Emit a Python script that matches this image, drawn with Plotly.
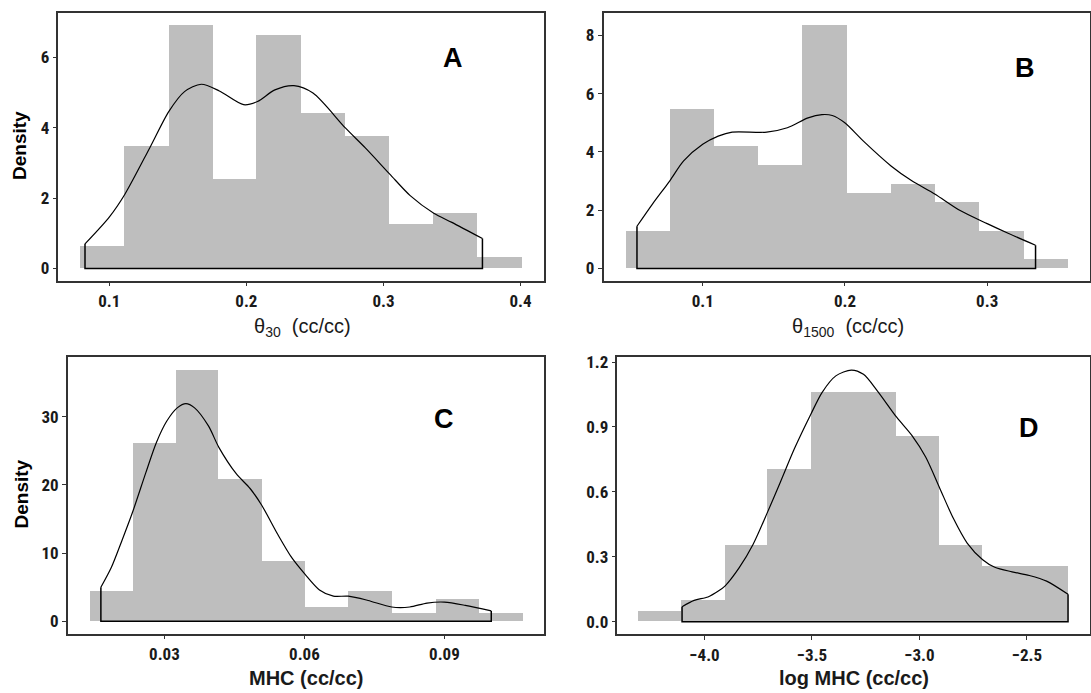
import plotly.graph_objects as go

W, H = 1091, 693

# ---------------- data ----------------
A_edges = [0.0790, 0.1114, 0.1436, 0.1757, 0.2076, 0.2400, 0.2721, 0.3045, 0.3367, 0.3688, 0.4010]
A_heights = [0.63, 3.47, 6.90, 2.54, 6.62, 4.41, 3.76, 1.27, 1.57, 0.33]
A_dens_x = [0.0823, 0.1000, 0.1114, 0.1296, 0.1435, 0.1549, 0.1671, 0.1803, 0.1980, 0.2081,
            0.2208, 0.2347, 0.2486, 0.2722, 0.2866, 0.3046, 0.3195, 0.3367, 0.3499, 0.3722]
A_dens_y = [0.70, 1.46, 2.11, 3.43, 4.46, 5.02, 5.23, 5.04, 4.65, 4.74,
            5.07, 5.19, 4.98, 3.99, 3.43, 2.68, 2.07, 1.57, 1.31, 0.85]

B_edges = [0.0458, 0.0769, 0.1075, 0.1386, 0.1697, 0.2009, 0.2320, 0.2631, 0.2942, 0.3253, 0.3564]
B_heights = [1.29, 5.46, 4.20, 3.55, 8.34, 2.58, 2.89, 2.28, 1.28, 0.32]
B_dens_x = [0.0538, 0.0648, 0.0769, 0.0866, 0.1000, 0.1109, 0.1207, 0.1450, 0.1595, 0.1741, 0.1838,
            0.1911, 0.1999, 0.2130, 0.2324, 0.2470, 0.2631, 0.2810, 0.3000, 0.3151, 0.3340]
B_dens_y = [1.45, 2.22, 3.01, 3.69, 4.26, 4.54, 4.68, 4.68, 4.83, 5.17, 5.28,
            5.25, 5.00, 4.37, 3.52, 3.01, 2.56, 1.99, 1.54, 1.20, 0.80]

C_edges = [0.01394, 0.02323, 0.03245, 0.04152, 0.05082, 0.06011, 0.0694, 0.0787, 0.08814, 0.09744, 0.1067]
C_heights = [4.40, 26.09, 36.86, 20.82, 8.70, 2.08, 4.40, 1.11, 3.24, 1.11]
C_dens_x = [0.01639, 0.01862, 0.02085, 0.02323, 0.02606, 0.02829, 0.03052, 0.03275, 0.03461, 0.03647,
            0.03944, 0.04167, 0.04539, 0.04836, 0.05082, 0.05431, 0.05729, 0.06011, 0.06323, 0.06621,
            0.06940, 0.07364, 0.07870, 0.08257, 0.08628, 0.09000, 0.09446, 0.10004]
C_dens_y = [4.98, 7.87, 11.74, 16.09, 21.88, 26.23, 29.37, 31.30, 31.93, 31.30,
            28.65, 25.51, 21.64, 19.47, 17.05, 12.71, 9.32, 6.91, 4.59, 3.67,
            3.67, 3.04, 2.08, 2.08, 2.66, 2.80, 2.32, 1.50]

D_edges = [-4.3055, -4.1061, -3.9051, -3.7058, -3.5048, -3.3055, -3.1061, -2.9051, -2.7058, -2.5048, -2.3087]
D_heights = [0.050, 0.101, 0.353, 0.706, 1.058, 1.058, 0.858, 0.353, 0.254, 0.254]
D_dens_x = [-4.1045, -4.0482, -3.9839, -3.9357, -3.9051, -3.8392, -3.7749, -3.7058, -3.6463, -3.5820,
            -3.5048, -3.4534, -3.3891, -3.3167, -3.2605, -3.1961, -3.1061, -3.0354, -2.9711, -2.9051,
            -2.8424, -2.7781, -2.7058, -2.6495, -2.5691, -2.4887, -2.4084, -2.3087]
D_dens_y = [0.070, 0.099, 0.115, 0.142, 0.165, 0.249, 0.356, 0.509, 0.647, 0.799,
            0.960, 1.059, 1.136, 1.163, 1.143, 1.067, 0.945, 0.861, 0.761, 0.616,
            0.478, 0.364, 0.287, 0.252, 0.231, 0.214, 0.188, 0.127]

A_xticks = [0.1, 0.2, 0.3, 0.4]
A_yticks = [0, 2, 4, 6]
B_xticks = [0.1, 0.2, 0.3]
B_yticks = [0, 2, 4, 6, 8]
C_xticks = [0.03, 0.06, 0.09]
C_yticks = [0, 10, 20, 30]
D_xticks = [-4.0, -3.5, -3.0, -2.5]
D_yticks = [0.0, 0.3, 0.6, 0.9, 1.2]

panel_letters = ["A", "B", "C", "D"]
x_titles = ["θ<sub>30</sub>  (cc/cc)", "θ<sub>1500</sub>  (cc/cc)", "<b>MHC (cc/cc)</b>", "<b>log MHC (cc/cc)</b>"]
y_title = "Density"

# ---------------- layout (pixel boxes) ----------------
boxes = {  # left, right, top, bottom in px
    1: (58.4, 544.0, 8.3, 277.7),
    2: (603.5, 1089.5, 8.3, 277.7),
    3: (67.8, 544.0, 355.0, 633.3),
    4: (617.4, 1089.5, 355.0, 634.0),
}

HIST_COLOR = "#bebebe"
TICK_FONT = dict(family="Liberation Sans Narrow, Arial Narrow, Roboto Condensed, Liberation Sans, Arial",
                 size=17, color="#1a1a1a", weight="bold")

fig = go.Figure()

panels = [
    (A_edges, A_heights, A_dens_x, A_dens_y, A_xticks, A_yticks, ".1f", "d"),
    (B_edges, B_heights, B_dens_x, B_dens_y, B_xticks, B_yticks, ".1f", "d"),
    (C_edges, C_heights, C_dens_x, C_dens_y, C_xticks, C_yticks, ".2f", "d"),
    (D_edges, D_heights, D_dens_x, D_dens_y, D_xticks, D_yticks, ".1f", ".1f"),
]

for i, (edges, heights, dx, dy, xt, yt, xfmt, yfmt) in enumerate(panels, start=1):
    xa = "x" if i == 1 else f"x{i}"
    ya = "y" if i == 1 else f"y{i}"
    mids = [(edges[k] + edges[k + 1]) / 2 for k in range(len(heights))]
    widths = [edges[k + 1] - edges[k] for k in range(len(heights))]
    fig.add_trace(go.Bar(x=mids, y=heights, width=widths, marker=dict(color=HIST_COLOR, line=dict(width=0)),
                         xaxis=xa, yaxis=ya, showlegend=False, hoverinfo="skip"))
    # density curve
    fig.add_trace(go.Scatter(x=dx, y=dy, mode="lines", line=dict(color="black", width=1.2, shape="spline", smoothing=0.8),
                             xaxis=xa, yaxis=ya, showlegend=False, hoverinfo="skip"))
    # outline closing the density polygon to the baseline
    fig.add_trace(go.Scatter(x=[dx[0], dx[0], dx[-1], dx[-1]], y=[dy[0], 0, 0, dy[-1]], mode="lines",
                             line=dict(color="black", width=1.5), xaxis=xa, yaxis=ya,
                             showlegend=False, hoverinfo="skip"))

    # ggplot-style 5% expansion
    lo_x, hi_x = edges[0], edges[-1]
    span_x = hi_x - lo_x
    ymax = max(max(heights), max(dy))
    l, r, t, b = boxes[i]
    axis_common = dict(showline=True, linecolor="#333333", linewidth=1.5, mirror=True, showgrid=False,
                       zeroline=False, ticks="outside", ticklen=4, tickwidth=1, tickcolor="#333333",
                       tickfont=TICK_FONT)
    fig.layout[f"xaxis{'' if i == 1 else i}"] = dict(
        domain=[l / W, r / W], anchor=ya, range=[lo_x - 0.05 * span_x, hi_x + 0.05 * span_x],
        tickvals=xt, tickformat=xfmt, **axis_common)
    fig.layout[f"yaxis{'' if i == 1 else i}"] = dict(
        domain=[1 - b / H, 1 - t / H], anchor=xa, range=[-0.05 * ymax, 1.05 * ymax],
        tickvals=yt, tickformat=yfmt, **axis_common)

annotations = []
letter_pos = [(453, 53), (1025, 63), (444, 417), (1029, 426)]
for letter, (px, py) in zip(panel_letters, letter_pos):
    annotations.append(dict(text=f"<b>{letter}</b>", x=px / W, y=1 - py / H, xref="paper", yref="paper",
                            showarrow=False, xanchor="center", yanchor="middle",
                            font=dict(family="Liberation Sans, Arial", size=27, color="black")))
xt_pos = [(302, 325), (848, 325), (305.5, 677.5), (854, 677.5)]
for txt, (px, py) in zip(x_titles, xt_pos):
    annotations.append(dict(text=txt, x=px / W, y=1 - py / H, xref="paper", yref="paper",
                            showarrow=False, xanchor="center", yanchor="middle",
                            font=dict(family="Liberation Sans, Arial", size=20, color="#1a1a1a")))
for px, py in [(19.5, 141.5), (21, 493)]:
    annotations.append(dict(text=f"<b>{y_title}</b>", x=px / W, y=1 - py / H, xref="paper", yref="paper",
                            showarrow=False, xanchor="center", yanchor="middle", textangle=-90,
                            font=dict(family="Liberation Sans, Arial", size=19, color="black")))

fig.update_layout(width=W, height=H, margin=dict(l=0, r=0, t=0, b=0), paper_bgcolor="white",
                  plot_bgcolor="white", bargap=0, annotations=annotations, showlegend=False)

fig.write_html("out.html", config={"displayModeBar": False})
